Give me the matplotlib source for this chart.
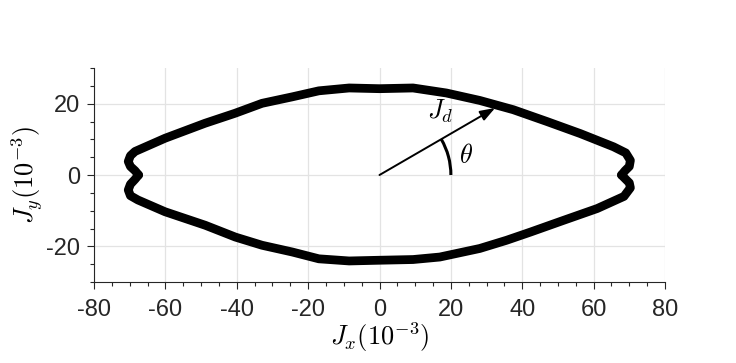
import numpy as np
import matplotlib
matplotlib.use("Agg")
import matplotlib.pyplot as plt
from matplotlib.patches import Arc

# Upper boundary (left notch -> right notch)
upper_x = [-67.5, -68.5, -69.8, -70.4, -69.8, -68.5, -60.1, -48.9, -40.5, -32.9, -24.5, -17.0, -8.5, 0.0,
           9.4, 18.7, 28.1, 37.5, 46.9, 56.3, 65.6, 69.0, 70.3, 70.0, 68.8, 67.8]
upper_y = [0.0, 1.2, 2.4, 3.8, 5.4, 6.6, 10.3, 14.5, 17.3, 20.1, 21.9, 23.6, 24.4, 24.2,
           24.4, 23.0, 20.9, 18.3, 15.0, 11.6, 7.9, 6.2, 4.1, 2.4, 1.2, 0.0]
# Lower boundary (left notch -> right notch)
lower_x = [-67.5, -68.5, -69.8, -70.4, -69.8, -67.7, -60.1, -48.8, -40.4, -32.9, -24.4, -17.0, -8.5, 0.0,
           9.4, 16.9, 28.1, 35.6, 42.3, 51.6, 61.0, 68.5, 70.3, 70.0, 68.8, 67.8]
lower_y = [0.0, -1.2, -2.6, -4.2, -5.8, -7.0, -10.3, -14.1, -17.4, -19.7, -21.6, -23.5, -24.1, -23.9,
           -23.7, -23.0, -20.6, -18.3, -16.0, -12.7, -9.4, -6.0, -3.6, -2.2, -1.0, 0.0]

arrow_tip = (32.4, 18.8)
arc_radius = 20.0
theta_deg = 30.0

xticks = [-80, -60, -40, -20, 0, 20, 40, 60, 80]
yticks = [-20, 0, 20]

plt.rcParams['mathtext.fontset'] = 'cm'
plt.rcParams['axes.unicode_minus'] = False
plt.rcParams['font.family'] = ['Liberation Sans', 'DejaVu Sans']

fig = plt.figure(figsize=(7.36, 3.63), dpi=100)
ax = fig.add_axes([94/736, (363-282)/363, 571/736, 214/363])

ax.plot(upper_x, upper_y, color='black', lw=6.3, solid_joinstyle='round', solid_capstyle='round', zorder=3)
ax.plot(lower_x, lower_y, color='black', lw=6.3, solid_joinstyle='round', solid_capstyle='round', zorder=3)

ax.annotate('', xy=arrow_tip, xytext=(0, 0),
            arrowprops=dict(arrowstyle='-|>,head_length=0.9,head_width=0.32', color='black', lw=1.4,
                            shrinkA=0, shrinkB=0), zorder=4)
ax.add_patch(Arc((0, 0), 2*arc_radius, 2*arc_radius, theta1=0, theta2=theta_deg, color='black', lw=2.2, zorder=4))
ax.text(24.2, 5.2, r'$\theta$', fontsize=19, ha='center', va='center')
ax.text(16.9, 17.8, r'$J_d$', fontsize=19, ha='center', va='center')

ax.set_xlim(-80, 80)
ax.set_ylim(-30, 30)
ax.set_xticks(xticks)
ax.set_yticks(yticks)
ax.set_xticks(np.arange(-80, 81, 5), minor=True)
ax.set_yticks(np.arange(-30, 31, 5), minor=True)
ax.grid(True, which='major', color='#e3e3e3', lw=0.9)
ax.set_axisbelow(True)
for s in ['top', 'right']:
    ax.spines[s].set_visible(False)
for s in ['left', 'bottom']:
    ax.spines[s].set_color('#262626')
    ax.spines[s].set_linewidth(0.8)
ax.tick_params(which='major', direction='out', length=5, width=0.8, color='#262626',
               labelsize=17, labelcolor='#262626')
ax.tick_params(axis='x', which='major', pad=7)
ax.tick_params(axis='y', which='major', pad=5)
ax.tick_params(which='minor', direction='out', length=3, width=0.8, color='#262626')
ax.set_xlabel(r'$J_x(10^{-3})$', fontsize=19, labelpad=0)
ax.set_ylabel(r'$J_y(10^{-3})$', fontsize=19, labelpad=1)

fig.savefig('out.png', dpi=100)
